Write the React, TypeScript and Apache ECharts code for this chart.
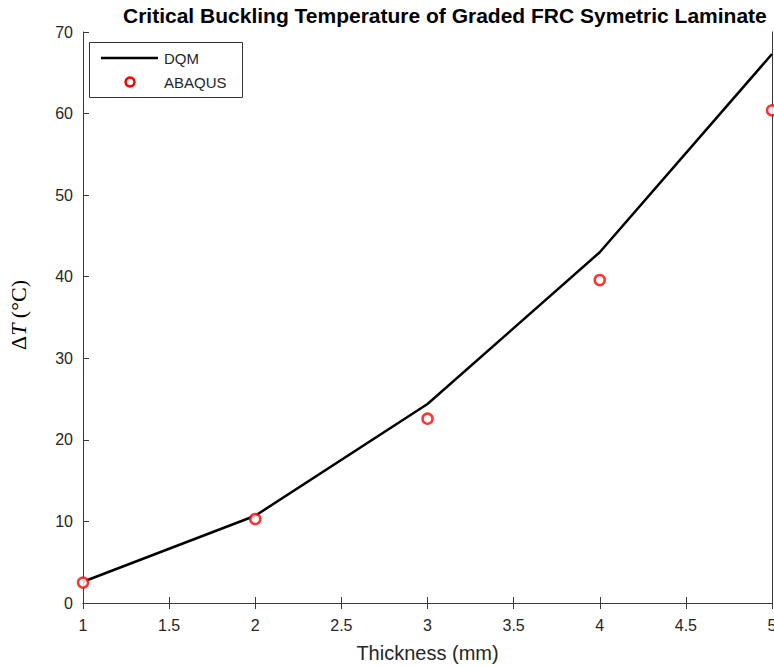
import React, { useEffect, useRef } from "react";
import * as echarts from "echarts";

const thickness = [1, 2, 3, 4, 5];
const dqmValues = [2.6, 10.7, 24.4, 43.0, 67.3];
const abaqusValues = [2.5, 10.3, 22.6, 39.6, 60.4];

const titleText = "Critical Buckling Temperature of Graded FRC Symetric Laminate";
const xName = "Thickness (mm)";

const FONT = "'Liberation Sans', Arial, Helvetica, sans-serif";
const SERIF = "'Liberation Serif', 'DejaVu Serif', serif";
const AXIS_COLOR = "#3a3a3a";
const LABEL_COLOR = "#262626";

export default function App() {
  const ref = useRef<HTMLDivElement>(null);
  useEffect(() => {
    if (!ref.current) return;
    const chart = echarts.init(ref.current, undefined, { renderer: "svg", width: 774, height: 667 });
    const axisCommon = {
      axisLine: { show: true, lineStyle: { color: AXIS_COLOR, width: 1 } },
      axisTick: { show: true, inside: true, length: 6, lineStyle: { color: AXIS_COLOR } },
      splitLine: { show: false },
    };
    chart.setOption({
      animation: false,
      backgroundColor: "#ffffff",
      title: {
        text: titleText,
        left: 118,
        top: 0,
        textStyle: { fontFamily: FONT, fontWeight: "bold", fontSize: 21, color: "#000" },
      },
      grid: {
        left: 83,
        top: 32,
        width: 689,
        height: 571,
        containLabel: false,
        outerBoundsMode: "none",
      },
      xAxis: [
        {
          type: "value",
          min: 1,
          max: 5,
          interval: 0.5,
          position: "bottom",
          name: xName,
          nameLocation: "middle",
          nameGap: 40,
          nameTextStyle: { fontFamily: FONT, fontSize: 20, color: LABEL_COLOR },
          axisLabel: { fontFamily: FONT, fontSize: 16, color: LABEL_COLOR, margin: 14 },
          ...axisCommon,
        },
        {
          type: "value",
          min: 1,
          max: 5,
          interval: 0.5,
          position: "top",
          axisLabel: { show: false },
          ...axisCommon,
        },
      ],
      yAxis: [
        {
          type: "value",
          min: 0,
          max: 70,
          interval: 10,
          position: "left",
          axisLabel: { fontFamily: FONT, fontSize: 16, color: LABEL_COLOR, margin: 10 },
          ...axisCommon,
        },
        {
          type: "value",
          min: 0,
          max: 70,
          interval: 10,
          position: "right",
          axisLabel: { show: false },
          ...axisCommon,
          axisTick: { show: false },
        },
      ],
      graphic: [
        {
          type: "text",
          x: 7,
          y: 350,
          rotation: Math.PI / 2,
          style: {
            text: "{d|Δ}{t|T} {d|(°C)}",
            rich: {
              d: { fontFamily: SERIF, fontSize: 22, fill: "#000" },
              t: { fontFamily: SERIF, fontSize: 22, fontStyle: "italic", fill: "#000" },
            },
            fontFamily: SERIF,
            fontSize: 22,
            fill: "#000",
            textVerticalAlign: "top",
          },
        },
        {
          type: "rect",
          shape: { x: 89.5, y: 42.5, width: 153, height: 55 },
          style: { fill: "#fff", stroke: "#333", lineWidth: 1 },
          z: 100,
        },
        {
          type: "line",
          shape: { x1: 101, y1: 58, x2: 158, y2: 58 },
          style: { stroke: "#000", lineWidth: 2.5 },
          z: 101,
        },
        {
          type: "text",
          x: 164,
          y: 58,
          style: { text: "DQM", fontFamily: FONT, fontSize: 15, fill: LABEL_COLOR, textVerticalAlign: "middle" },
          z: 101,
        },
        {
          type: "circle",
          shape: { cx: 130, cy: 82, r: 4.5 },
          style: { fill: "#fff", stroke: "#ff0000", lineWidth: 2.5 },
          z: 101,
        },
        {
          type: "text",
          x: 164,
          y: 82,
          style: { text: "ABAQUS", fontFamily: FONT, fontSize: 15, fill: LABEL_COLOR, textVerticalAlign: "middle" },
          z: 101,
        },
      ],
      series: [
        {
          name: "DQM",
          type: "line",
          data: thickness.map((t, i) => [t, dqmValues[i]]),
          symbol: "none",
          lineStyle: { color: "#000", width: 2.5 },
          z: 2,
        },
        {
          name: "ABAQUS",
          type: "scatter",
          data: thickness.map((t, i) => [t, abaqusValues[i]]),
          symbol: "circle",
          symbolSize: 10,
          itemStyle: { color: "#ffffff", borderColor: "#ff0000", borderWidth: 2.5 },
          clip: false,
          z: 3,
        },
      ],
    });
    return () => chart.dispose();
  }, []);
  return <div ref={ref} style={{ width: 774, height: 667, position: "absolute", left: 0, top: 0 }} />;
}
